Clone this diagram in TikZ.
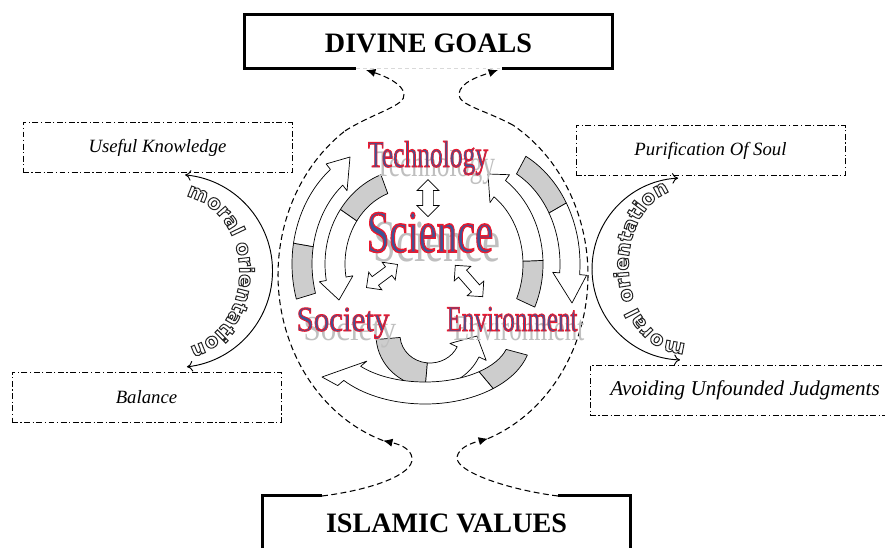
\documentclass[tikz,border=0pt]{standalone}
\usepackage{graphicx}
\usepackage{fontspec}
\setmainfont{Liberation Serif}
\newfontfamily\artfont[FakeBold=2.5]{Liberation Serif}
\newfontfamily\moralfont[FakeBold=5]{DejaVu Sans Bold}
\usetikzlibrary{arrows.meta, shapes.arrows, decorations.text}
\definecolor{ArtRed}{RGB}{235, 25, 45}
\definecolor{ArtBlue}{RGB}{60, 85, 150}
\definecolor{BackGray}{RGB}{205, 205, 205}

\newcommand\strokecol[3]{\special{pdf:literal direct #1 #2 #3 RG}}
\newcommand\wordart[2]{\scalebox{#1}[1]{\textcolor{ArtBlue}{\strokecol{0.92}{0.1}{0.18}#2}}}
\newcommand\wordshade[2]{\scalebox{#1}[1]{\textcolor{black!25}{#2}}}
\newcommand\hollow[1]{\textcolor{white}{\strokecol{0.15}{0.15}{0.15}#1}}

\newcommand\bandarrow[9][white]{%
  \pgfmathsetmacro\bOx{#3+#7}\pgfmathsetmacro\bOy{#4+#7}%
  \pgfmathsetmacro\bIx{#3-#7}\pgfmathsetmacro\bIy{#4-#7}%
  \pgfmathsetmacro\bHx{#3+#8}\pgfmathsetmacro\bHy{#4+#8}%
  \pgfmathsetmacro\bJx{#3-#8}\pgfmathsetmacro\bJy{#4-#8}%
  \filldraw[band, fill=#1]
    ([shift={({\bOx*cos(#5)},{\bOy*sin(#5)})}]#2)
      arc[start angle=#5, end angle=#6, x radius=\bOx, y radius=\bOy]
    -- ([shift={({\bHx*cos(#6)},{\bHy*sin(#6)})}]#2)
    -- (#9)
    -- ([shift={({\bJx*cos(#6)},{\bJy*sin(#6)})}]#2)
    -- ([shift={({\bIx*cos(#6)},{\bIy*sin(#6)})}]#2)
      arc[start angle=#6, end angle=#5, x radius=\bIx, y radius=\bIy]
    -- cycle;}

\newcommand\bandpart[7][BackGray]{%
  \pgfmathsetmacro\bOx{#3+#7}\pgfmathsetmacro\bOy{#4+#7}%
  \pgfmathsetmacro\bIx{#3-#7}\pgfmathsetmacro\bIy{#4-#7}%
  \filldraw[band, fill=#1]
    ([shift={({\bOx*cos(#5)},{\bOy*sin(#5)})}]#2)
      arc[start angle=#5, end angle=#6, x radius=\bOx, y radius=\bOy]
    -- ([shift={({\bIx*cos(#6)},{\bIy*sin(#6)})}]#2)
      arc[start angle=#6, end angle=#5, x radius=\bIx, y radius=\bIy]
    -- cycle;}

\begin{document}
\begin{tikzpicture}[x=0.03cm, y=-0.03cm,
  heading/.style={font=\fontsize{24}{24}\selectfont\bfseries, minimum width=11.01cm, inner sep=0pt, text depth=0pt},
  frame/.style={line width=2.4pt, line join=miter},
  sidebox/.style={draw, dash pattern=on 5pt off 2.2pt on 1pt off 2.2pt, line width=0.75pt, minimum width=8.07cm, minimum height=1.5cm, inner sep=0pt, font=\fontsize{16}{16}\selectfont\itshape},
  ring/.style={dash pattern=on 5pt off 3pt, line width=0.9pt},
  flow/.style={ring, -{Latex[length=8pt, width=7pt]}},
  moral/.style={{To[length=5pt, width=9pt]}-{To[length=5pt, width=9pt]}, line width=0.8pt},
  band/.style={draw, line width=0.6pt, line join=round},
  dblarrow/.style={draw, fill=white, double arrow, double arrow head extend=0.17cm, inner xsep=0pt, inner ysep=0.15cm, minimum height=1.11cm, line width=0.6pt},
  art/.style={anchor=base, inner sep=0pt},
  moraltext/.style={decorate, decoration={text effects along path, text={moral orientation},
    text effects/.cd, text along path,
    every character/.style={font=\moralfont\fontsize{17}{17}\selectfont},
    character command=\hollow}}]

\path[use as bounding box, fill=white] (0,0) rectangle (885,547);

\node[heading, minimum height=1.59cm, text height=19.6pt] (divine) at (428.5,41.5) {DIVINE GOALS};
\node[heading, minimum height=1.68cm, text height=13.7pt] (islamic) at (446.5,524) {ISLAMIC VALUES};

\draw[frame] (divine.south west) ++(111,0) -- (divine.south west) -- (divine.north west) -- (divine.north east) -- (divine.south east) -- ++(-110,0);
\draw[gray!30, dashed, thin] (356,68) -- (502,68);
\draw[frame] (islamic.north west) ++(59,0) -- (islamic.north west) -- (islamic.south west);
\draw[frame] (islamic.north east) ++(-72,0) -- (islamic.north east) -- (islamic.south east);

\node[sidebox] (useful) at (157.5,147.5) {Useful Knowledge};
\node[sidebox] (purify) at (710.5,150.5) {Purification Of Soul};
\node[sidebox] (balance) at (146.5,397) {Balance};
\node[sidebox, minimum width=9.3cm, font=\fontsize{18}{18}\selectfont\itshape] (avoid) at (745,390.5) {Avoiding Unfounded Judgments};

\coordinate (dgL) at (366,70);
\coordinate (dgR) at (498,70);
\coordinate (ivL) at (322,496);
\coordinate (ivR) at (558,496);
\coordinate (ringTL) at (345,130.9);
\coordinate (ringBL) at (383.1,440.6);
\coordinate (ringTR) at (513.1,125.2);
\coordinate (ringBR) at (488,438.6);

\draw[flow] (ivL) .. controls (370,490) and (414,475) .. (412,458) .. controls (411,448) and (398,444) .. (ringBL);
\draw[ring] (ringBL) arc[start angle=108.8, end angle=235.4, x radius=155, y radius=175];
\draw[flow] (ringTL) .. controls (375,112) and (406,106) .. (404,94) .. controls (403,84) and (385,76) .. (dgL);
\draw[flow] (ivR) .. controls (510,490) and (455,472) .. (457,457) .. controls (459,447) and (472,443) .. (ringBR);
\draw[ring] (ringBR) arc[start angle=69.2, end angle=-58.9, x radius=155, y radius=175];
\draw[flow] (ringTR) .. controls (485,110) and (458,105) .. (459,94) .. controls (460,82) and (480,76) .. (dgR);

\coordinate (mlTop) at (185.1,174.9);
\coordinate (mrTop) at (678.1,178.1);
\draw[moral] (mlTop) arc[start angle=-84.6, end angle=83.5, radius=96.5];
\draw[moral] (mrTop) arc[start angle=266.9, end angle=91.9, radius=91];

\path[moraltext] ([shift={(-81:63.5 and 76.5)}]176,272) arc[start angle=-81, end angle=100, x radius=63.5, y radius=76.5];
\path[moraltext] ([shift={(87:54.5 and 76.5)}]683,266) arc[start angle=87, end angle=280, x radius=54.5, y radius=76.5];

\bandpart{392,264}{90}{110}{163}{190}{10}
\bandarrow{392,264}{90}{110}{190}{232}{10}{17}{350,157}
\bandpart{410,264}{75}{85}{250}{215}{10}
\bandarrow{410,264}{75}{85}{215}{170}{10}{17}{339,300}
\bandpart{455,264}{78}{92}{25}{-2}{10}
\bandarrow{455,264}{78}{92}{-2}{-55}{10}{17}{488,174}
\bandpart{478,264}{92}{112}{-62}{-30}{10}
\bandarrow{478,264}{92}{112}{-30}{5}{10}{17}{572,303}
\bandpart{430,335}{42}{40}{175}{95}{12}
\bandarrow{430,335}{42}{40}{95}{25}{12}{20}{477,336}
\bandpart{425,338}{95}{55}{15}{50}{11}
\bandarrow{425,338}{95}{55}{50}{140}{11}{19}{322,377}

\node[dblarrow, rotate=90] (techSci) at (428,198) {};
\node[dblarrow, rotate=36.6, minimum height=1.16cm] (socSci) at (382,276) {};
\node[dblarrow, rotate=-48.8, minimum height=1.25cm] (envSci) at (469,281) {};

\node[art, font=\fontsize{32}{32}\selectfont] (techShade) at (435,176) {\wordshade{0.68}{Technology}};
\node[art, font=\fontsize{51}{51}\selectfont] (sciShade) at (437,261) {\wordshade{0.68}{Science}};
\node[art, font=\fontsize{30}{30}\selectfont] (socShade) at (350,340) {\wordshade{0.88}{Society}};
\node[art, font=\fontsize{31}{31}\selectfont] (envShade) at (519,340) {\wordshade{0.69}{Environment}};
\node[art, font=\artfont\fontsize{32}{32}\selectfont] (tech) at (428,167) {\wordart{0.68}{Technology}};
\node[art, font=\artfont\fontsize{51}{51}\selectfont] (sci) at (430,252) {\wordart{0.68}{Science}};
\node[art, font=\artfont\fontsize{30}{30}\selectfont] (soc) at (343,331) {\wordart{0.88}{Society}};
\node[art, font=\artfont\fontsize{31}{31}\selectfont] (env) at (512,331) {\wordart{0.69}{Environment}};

\end{tikzpicture}
\end{document}
